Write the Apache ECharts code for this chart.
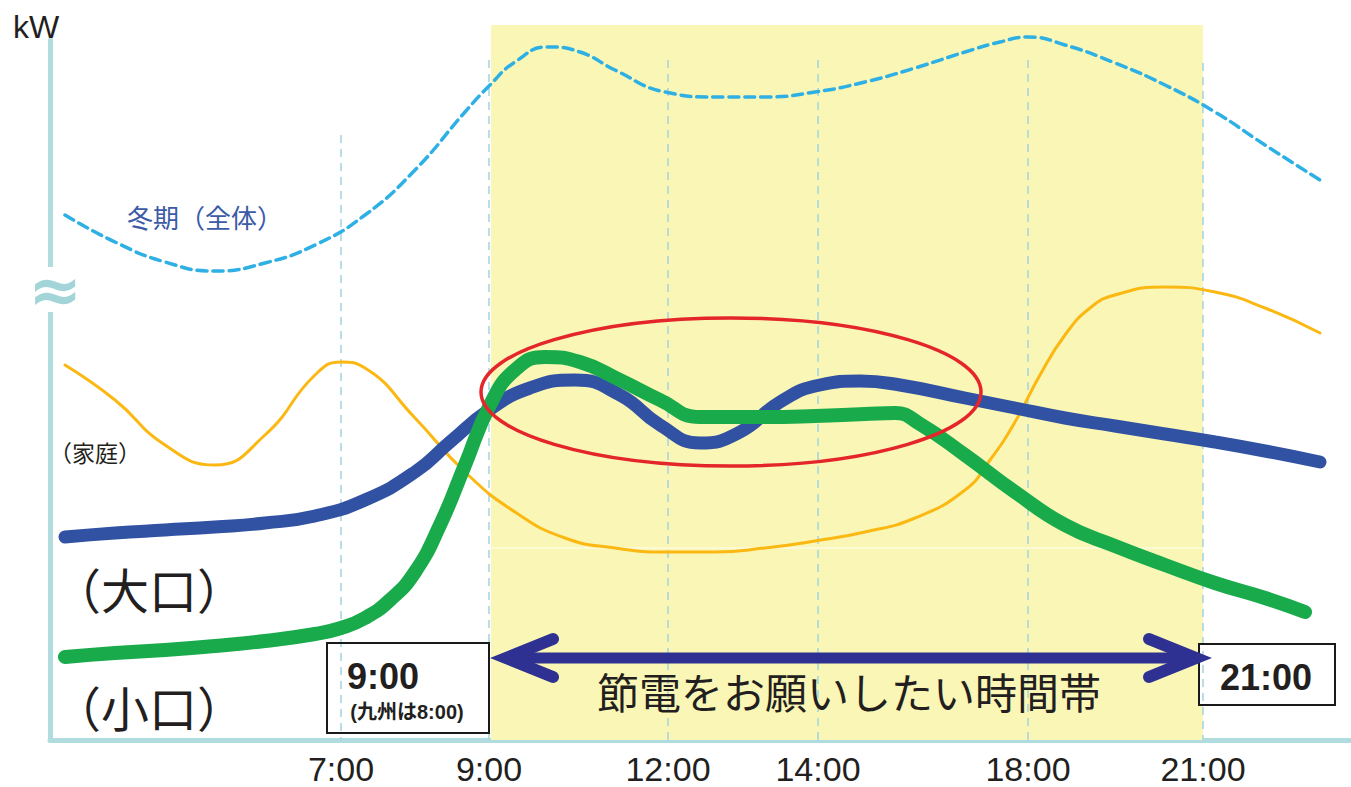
<!DOCTYPE html>
<html>
<head>
<meta charset="utf-8">
<script src="https://cdn.jsdelivr.net/npm/echarts@6/dist/echarts.min.js"></script>
<style>
  html, body { margin: 0; padding: 0; background: #fff; }
  #chart { width: 1351px; height: 787px; }
</style>
</head>
<body>
<div id="chart"></div>
<script>
// Time-of-day ticks on the schematic day axis (position units along the axis)
const tickLabels = ['7:00', '9:00', '12:00', '14:00', '18:00', '21:00'];
const tickPos = [291, 439, 618, 768, 978, 1153];
// Height (kW, schematic) where each dashed time guide starts
const guideTop = [605, 680, 680, 680, 680, 677];

// Power-saving request window (from 9:00 to 21:00)
const savingWindow = [441, 1153];

// Demand curves: [axis position, kW (schematic)]
const winterTotal = [
  [15, 525], [65, 498], [115, 478], [165, 469], [215, 477], [265, 495], [315, 525],
  [365, 570], [415, 628], [440, 655], [465, 678], [498, 693], [530, 688], [565, 670],
  [615, 648], [665, 643], [715, 643], [765, 648], [815, 658], [865, 672], [915, 688],
  [950, 698], [978, 703], [1015, 695], [1065, 677], [1115, 655], [1165, 628],
  [1215, 595], [1270, 560]
];
const household = [
  [15, 375], [65, 340], [115, 295], [165, 275], [215, 305], [265, 365], [291, 378],
  [315, 372], [365, 322], [415, 268], [465, 228], [515, 202], [565, 192], [615, 188],
  [665, 188], [715, 192], [765, 199], [815, 208], [865, 222], [915, 250], [940, 280],
  [965, 318], [990, 365], [1015, 405], [1040, 432], [1065, 445], [1115, 453],
  [1165, 448], [1215, 432], [1270, 407]
];
const largeUsers = [
  [15, 203], [65, 207], [115, 210], [165, 213], [215, 217], [265, 224], [315, 240],
  [365, 268], [400, 298], [439, 330], [480, 352], [525, 360], [570, 345], [610, 315],
  [650, 297], [690, 308], [730, 338], [770, 355], [810, 359], [850, 355], [915, 342],
  [965, 332], [1015, 322], [1065, 314], [1115, 306], [1165, 298], [1215, 289], [1270, 278]
];
const smallUsers = [
  [15, 83], [65, 87], [115, 90], [165, 94], [215, 99], [265, 106], [291, 112],
  [315, 122], [340, 140], [365, 168], [390, 215], [415, 275], [440, 335], [465, 370],
  [495, 383], [530, 378], [570, 360], [610, 340], [650, 323], [715, 323], [765, 324],
  [815, 326], [845, 327], [870, 316], [915, 285], [965, 248], [1015, 215], [1065, 194],
  [1115, 175], [1165, 157], [1215, 142], [1255, 128]
];

const JP = '"Noto Sans CJK JP", "Noto Sans", sans-serif';
const LAT = '"Liberation Sans", Arial, sans-serif';
const INK = '#231f20';

const chart = echarts.init(document.getElementById('chart'), null, { renderer: 'svg' });

// Background layer: window band, time boxes, dashed time guides
function renderBackground(params, api) {
  const c = (x, y) => api.coord([x, y]);
  const children = [];
  const b0 = c(savingWindow[0], 715), b1 = c(savingWindow[1], 0);
  children.push({
    type: 'rect',
    shape: { x: b0[0], y: b0[1], width: b1[0] - b0[0], height: b1[1] - b0[1] },
    style: { fill: '#faf6b6' }
  });
  const s0 = c(savingWindow[0], 192), s1 = c(savingWindow[1], 192);
  children.push({
    type: 'line',
    shape: { x1: s0[0], y1: s0[1], x2: s1[0], y2: s1[1] },
    style: { stroke: 'rgba(255,255,255,0.85)', lineWidth: 1 }
  });
  // start / end time boxes
  const boxes = [[277, 97, 439, 7], [1149, 96, 1285, 35]].map(([x0, y0, x1, y1]) => {
    const p = c(x0, y0), q = c(x1, y1);
    return { x: p[0], y: p[1], width: q[0] - p[0], height: q[1] - p[1] };
  });
  boxes.forEach(shape => children.push({ type: 'rect', shape, style: { fill: '#ffffff' } }));
  tickPos.forEach((x, i) => {
    const p = c(x, guideTop[i]), q = c(x, 0);
    children.push({
      type: 'line',
      shape: { x1: p[0], y1: p[1], x2: q[0], y2: q[1] },
      style: { stroke: '#a9d5e0', lineWidth: 1.6, lineDash: [8, 6] }
    });
  });
  boxes.forEach(shape => children.push({
    type: 'rect', shape, style: { fill: 'none', stroke: '#1a1a1a', lineWidth: 2 }
  }));
  return { type: 'group', children };
}

// Foreground layer: highlight ellipse, window arrow, labels
function renderOverlay(params, api) {
  const c = (x, y) => api.coord([x, y]);
  const children = [];
  const txt = (pt, text, font, fill) => ({
    type: 'text', x: pt[0], y: pt[1],
    style: { text, font, fill, align: 'center', verticalAlign: 'middle' }
  });

  const ec = c(681, 348);
  children.push({
    type: 'ellipse',
    shape: { cx: ec[0], cy: ec[1], rx: 250, ry: 74 },
    style: { fill: 'none', stroke: '#e4262b', lineWidth: 3.5 }
  });

  // double-headed arrow across the saving window
  const a0 = c(460, 82), a1 = c(1142, 82);
  children.push({
    type: 'line',
    shape: { x1: a0[0], y1: a0[1], x2: a1[0], y2: a1[1] },
    style: { stroke: '#2e3192', lineWidth: 11 }
  });
  const heads = [
    [[503, 101], [456, 82], [503, 63]],
    [[1099, 101], [1146, 82], [1099, 63]]
  ];
  heads.forEach(h => {
    children.push({
      type: 'polyline',
      shape: { points: h.map(p => c(p[0], p[1])) },
      style: { stroke: '#2e3192', lineWidth: 12, lineCap: 'round', lineJoin: 'miter', fill: 'none' }
    });
  });
  children.push(txt(c(799, 50), '節電をお願いしたい時間帯', '42px ' + JP, INK));

  // box texts
  children.push(txt(c(333, 64), '9:00', 'bold 36px ' + LAT, INK));
  children.push(txt(c(357, 28), '(九州は8:00)', 'bold 20px ' + LAT + ', ' + JP, INK));
  children.push(txt(c(1216, 63), '21:00', 'bold 36px ' + LAT, INK));

  // series labels
  children.push(txt(c(155, 524), '冬期（全体）', '26px ' + JP, '#3c5aa6'));
  children.push(txt(c(45, 288), '（家庭）', '23px ' + JP, INK));
  children.push(txt(c(99, 152), '（大口）', '48px ' + JP, INK));
  children.push(txt(c(99, 34), '（小口）', '48px ' + JP, INK));

  // unit label and axis break mark
  children.push(txt(c(-14, 713), 'kW', '32px ' + LAT, INK));
  const w0 = c(-7, 473), w1 = c(8, 428);
  children.push({
    type: 'rect',
    shape: { x: w0[0], y: w0[1], width: w1[0] - w0[0], height: w1[1] - w0[1] },
    style: { fill: '#ffffff' }
  });
  children.push(txt(c(5, 450), '≈', 'bold 64px "DejaVu Sans", sans-serif', '#a3d5d8'));
  return { type: 'group', children };
}

const lineSeries = (name, data, color, width, dash) => ({
  name, type: 'line', data, smooth: 0.5,
  showSymbol: false, clip: false, silent: true,
  lineStyle: { color, width, type: dash || 'solid', cap: 'round' }
});

chart.setOption({
  animation: false,
  grid: { left: 50, right: 0, top: 40, bottom: 47 },
  xAxis: {
    type: 'value', min: 0, max: 1301,
    axisLine: { show: true, lineStyle: { color: '#b0dcdf', width: 5 } },
    axisTick: { show: false },
    splitLine: { show: false },
    axisLabel: {
      customValues: tickPos,
      formatter: v => tickLabels[tickPos.indexOf(v)] || '',
      fontFamily: LAT, fontSize: 34, color: INK, margin: 12
    }
  },
  yAxis: {
    type: 'value', min: 0, max: 700,
    axisLine: { show: true, lineStyle: { color: '#b0dcdf', width: 5 } },
    axisTick: { show: false },
    splitLine: { show: false },
    axisLabel: { show: false }
  },
  series: [
    { type: 'custom', data: [[0, 0]], renderItem: renderBackground, clip: false, silent: true, z: 1 },
    lineSeries('冬期（全体）', winterTotal, '#2eb0e5', 3.5, [10, 6]),
    lineSeries('家庭', household, '#fbb812', 3),
    lineSeries('大口', largeUsers, '#3152a3', 13),
    lineSeries('小口', smallUsers, '#19ab4b', 14),
    { type: 'custom', data: [[0, 0]], renderItem: renderOverlay, clip: false, silent: true, z: 5 }
  ]
});
</script>
</body>
</html>
